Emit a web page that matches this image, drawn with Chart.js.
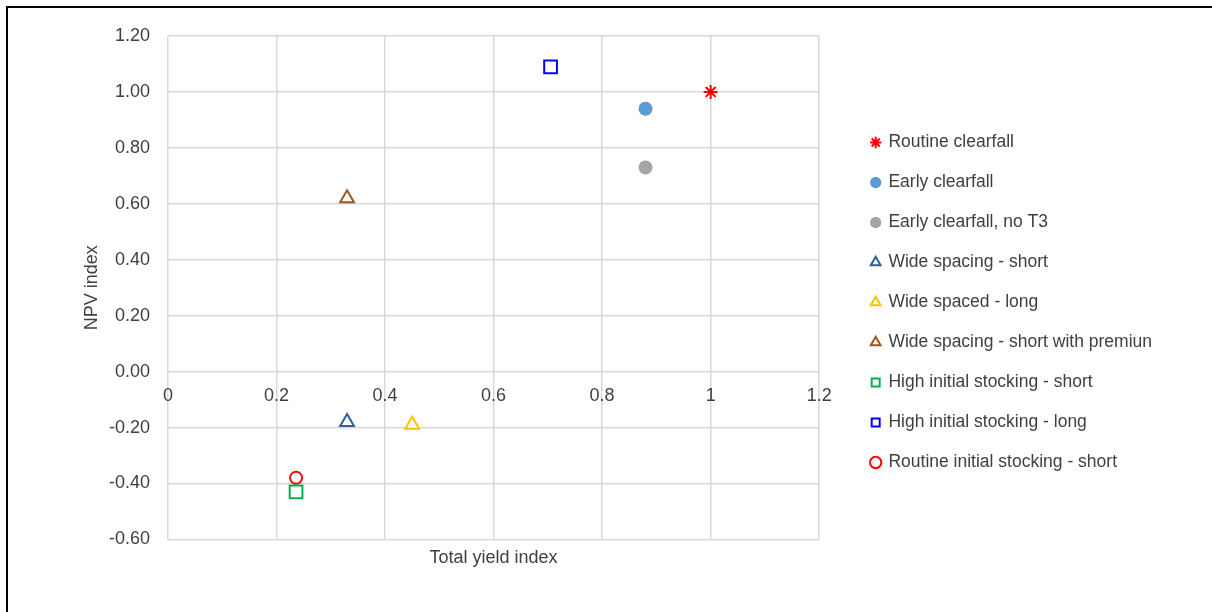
<!DOCTYPE html>
<html>
<head>
<meta charset="utf-8">
<script src="https://cdn.jsdelivr.net/npm/chart.js@4"></script>
<style>
  body { margin: 0; background: #fff; }
  #frame {
    position: absolute; left: 6px; top: 6px; right: 0; bottom: 0;
    border-top: 2px solid #000; border-left: 2px solid #000;
  }
  #wrap { position: absolute; left: 0; top: 0; width: 1212px; height: 612px; }
</style>
</head>
<body>
<div id="frame"></div>
<div id="wrap"><canvas id="myChart"></canvas></div>
<script>
const seriesNames = [
  "Routine clearfall",
  "Early clearfall",
  "Early clearfall, no T3",
  "Wide spacing - short",
  "Wide spaced - long",
  "Wide spacing - short with premiun",
  "High initial stocking - short",
  "High initial stocking - long",
  "Routine initial stocking - short",
];
const totalYield = [1.0, 0.88, 0.88, 0.33, 0.45, 0.33, 0.236, 0.705, 0.236];
const npvIndex = [1.0, 0.94, 0.73, -0.18, -0.19, 0.62, -0.43, 1.09, -0.38];

const colors = ["#FF0000", "#5B9BD5", "#A5A5A5", "#2E6099", "#FFC000", "#A0561F", "#00B050", "#0000FF", "#FF0000"];
const shapes = ["star", "circle", "circle", "triangle", "triangle", "triangle", "rect", "rect", "circle"];
const filled = [false, true, true, false, false, false, false, false, false];
const sizes = [7, 7, 7, 8, 8, 8, 9, 9, 6];

const font = "'Liberation Sans', Arial, sans-serif";
const textColor = "#404040";

const ctx = document.getElementById("myChart");

const datasets = seriesNames.map((name, i) => ({
  label: name,
  data: [{ x: totalYield[i], y: npvIndex[i] }],
  pointStyle: shapes[i],
  pointRadius: sizes[i],
  pointHoverRadius: sizes[i],
  borderColor: colors[i],
  backgroundColor: filled[i] ? colors[i] : "#FFFFFF",
  borderWidth: filled[i] ? 0 : 2,
}));

new Chart(ctx, {
  type: "scatter",
  data: { datasets: datasets },
  options: {
    responsive: true,
    maintainAspectRatio: false,
    animation: false,
    layout: { padding: { left: 70, top: 36, bottom: 43, right: 50 } },
    scales: {
      x: {
        type: "linear",
        min: 0,
        max: 1.2,
        position: { y: 0 },
        border: { display: false },
        grid: { color: "#D9D9D9", lineWidth: 1.5, drawTicks: false },
        ticks: {
          stepSize: 0.2,
          padding: 14,
          color: textColor,
          font: { family: font, size: 18 },
          callback: (v) => String(parseFloat(v.toFixed(2))),
        },
      },
      x2: {
        type: "linear",
        min: 0,
        max: 1.2,
        position: "bottom",
        border: { display: false },
        grid: { display: false },
        ticks: { display: false },
        title: { display: true, text: "Total yield index", color: textColor, padding: { top: 0, bottom: 0 }, font: { family: font, size: 18 } },
      },
      y: {
        type: "linear",
        min: -0.6,
        max: 1.2,
        border: { display: false },
        grid: { color: "#D9D9D9", lineWidth: 1.5, drawTicks: false },
        ticks: {
          stepSize: 0.2,
          padding: 18,
          color: textColor,
          font: { family: font, size: 18 },
          callback: (v) => v.toFixed(2),
        },
        title: { display: true, text: "NPV index", color: textColor, padding: { top: 11, bottom: 0 }, font: { family: font, size: 18 } },
        afterFit: (scale) => { scale.width = 98; },
      },
      yGap: {
        type: "linear",
        position: "right",
        border: { display: false },
        grid: { display: false },
        ticks: { display: false },
        afterFit: (scale) => { scale.width = 30; },
      },
    },
    plugins: {
      tooltip: { enabled: false },
      legend: {
        position: "right",
        maxWidth: 500,
        labels: {
          usePointStyle: true,
          boxWidth: 8,
          boxHeight: 8,
          padding: 22.5,
          color: textColor,
          font: { family: font, size: 17.5 },
        },
      },
    },
  },
});
</script>
</body>
</html>
